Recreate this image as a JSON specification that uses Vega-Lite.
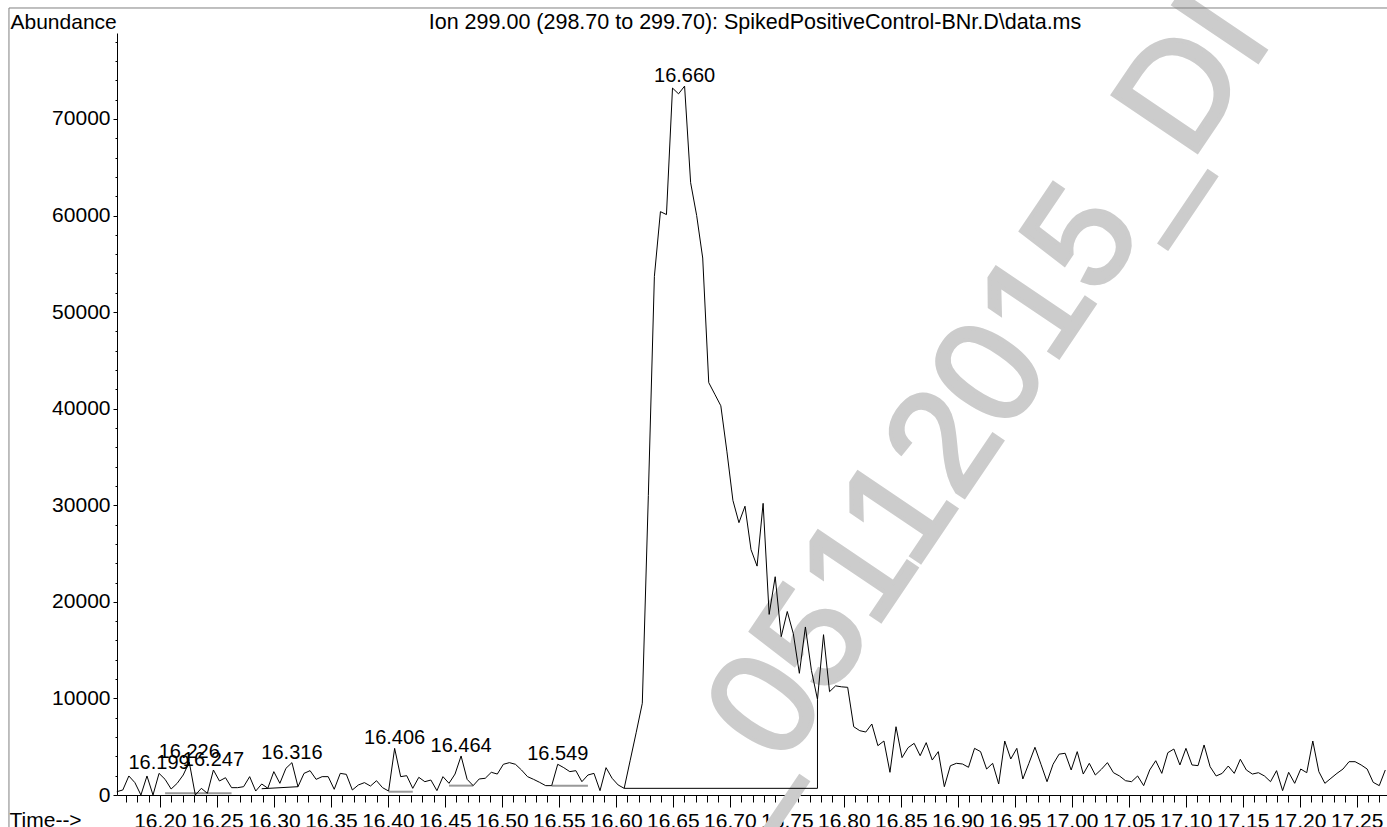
{
  "$schema": "https://vega.github.io/schema/vega-lite/v6.json",
  "width": 1270,
  "height": 762,
  "autosize": "none",
  "padding": {"left": 117, "top": 33, "right": 0, "bottom": 32},
  "background": "white",
  "config": {
    "view": {"stroke": null},
    "font": "Liberation Sans",
    "axis": {"grid": false, "labelFont": "Liberation Sans", "titleFont": "Liberation Sans", "labelColor": "black", "titleColor": "black", "tickColor": "black", "domainColor": "black", "labelFontSize": 21, "titleFontSize": 21, "titleFontWeight": "normal"}
  },
  "datasets": {
    "sig": [
      {"t":16.1621,"a":340},{"t":16.1674,"a":520},{"t":16.1727,"a":1970},{"t":16.1780,"a":1280},{"t":16.1833,"a":0},{"t":16.1886,"a":1970},{"t":16.1939,"a":0},{"t":16.1992,"a":2240},{"t":16.2045,"a":1620},{"t":16.2098,"a":620},
      {"t":16.2151,"a":1210},{"t":16.2204,"a":2070},{"t":16.2257,"a":3400},{"t":16.2310,"a":0},{"t":16.2363,"a":690},{"t":16.2416,"a":170},{"t":16.2469,"a":2590},{"t":16.2522,"a":1450},{"t":16.2575,"a":1790},{"t":16.2628,"a":760},
      {"t":16.2681,"a":760},{"t":16.2734,"a":860},{"t":16.2787,"a":1900},{"t":16.2840,"a":410},{"t":16.2893,"a":1140},{"t":16.2946,"a":700},{"t":16.2999,"a":2420},{"t":16.3052,"a":1210},{"t":16.3105,"a":2760},{"t":16.3158,"a":3350},
      {"t":16.3211,"a":860},{"t":16.3264,"a":2240},{"t":16.3317,"a":2520},{"t":16.3370,"a":1620},{"t":16.3423,"a":1900},{"t":16.3476,"a":1900},{"t":16.3529,"a":590},{"t":16.3582,"a":2240},{"t":16.3635,"a":2140},{"t":16.3688,"a":520},
      {"t":16.3741,"a":1040},{"t":16.3794,"a":1280},{"t":16.3847,"a":930},{"t":16.3900,"a":1480},{"t":16.3953,"a":760},{"t":16.4006,"a":410},{"t":16.4059,"a":4830},{"t":16.4112,"a":1900},{"t":16.4165,"a":2000},{"t":16.4218,"a":690},
      {"t":16.4271,"a":1830},{"t":16.4324,"a":1380},{"t":16.4377,"a":1550},{"t":16.4430,"a":450},{"t":16.4483,"a":1900},{"t":16.4536,"a":1210},{"t":16.4589,"a":2170},{"t":16.4642,"a":4040},{"t":16.4695,"a":1620},{"t":16.4748,"a":970},
      {"t":16.4801,"a":1660},{"t":16.4854,"a":1730},{"t":16.4907,"a":2350},{"t":16.4960,"a":2170},{"t":16.5013,"a":3180},{"t":16.5066,"a":3350},{"t":16.5119,"a":3180},{"t":16.5172,"a":2590},{"t":16.5225,"a":1900},{"t":16.5278,"a":1620},
      {"t":16.5331,"a":1310},{"t":16.5384,"a":970},{"t":16.5437,"a":970},{"t":16.5490,"a":3180},{"t":16.5543,"a":2830},{"t":16.5596,"a":2420},{"t":16.5649,"a":2520},{"t":16.5702,"a":1380},{"t":16.5755,"a":2070},{"t":16.5808,"a":2240},
      {"t":16.5861,"a":450},{"t":16.5914,"a":2830},{"t":16.5967,"a":1730},{"t":16.6020,"a":1040},{"t":16.6073,"a":690},{"t":16.6126,"a":3600},{"t":16.6179,"a":6500},{"t":16.6232,"a":9500},{"t":16.6285,"a":31000},{"t":16.6338,"a":53700},
      {"t":16.6391,"a":60400},{"t":16.6444,"a":60100},{"t":16.6497,"a":73200},{"t":16.6550,"a":72600},{"t":16.6603,"a":73400},{"t":16.6656,"a":63400},{"t":16.6709,"a":60000},{"t":16.6762,"a":55600},{"t":16.6815,"a":42700},{"t":16.6868,"a":41500},
      {"t":16.6921,"a":40300},{"t":16.6974,"a":35600},{"t":16.7027,"a":30500},{"t":16.7080,"a":28200},{"t":16.7133,"a":29900},{"t":16.7186,"a":25400},{"t":16.7239,"a":23700},{"t":16.7292,"a":30200},{"t":16.7345,"a":18700},{"t":16.7398,"a":22600},
      {"t":16.7451,"a":16400},{"t":16.7504,"a":19000},{"t":16.7557,"a":16700},{"t":16.7610,"a":12600},{"t":16.7663,"a":17400},{"t":16.7716,"a":12900},{"t":16.7769,"a":9900},{"t":16.7822,"a":16600},{"t":16.7875,"a":10700},{"t":16.7928,"a":11300},
      {"t":16.7981,"a":11200},{"t":16.8034,"a":11150},{"t":16.8087,"a":7070},{"t":16.8140,"a":6660},{"t":16.8193,"a":6520},{"t":16.8246,"a":7350},{"t":16.8299,"a":5110},{"t":16.8352,"a":5590},{"t":16.8405,"a":2350},{"t":16.8458,"a":7070},
      {"t":16.8511,"a":3870},{"t":16.8564,"a":4900},{"t":16.8617,"a":5350},{"t":16.8670,"a":4070},{"t":16.8723,"a":5420},{"t":16.8776,"a":3620},{"t":16.8829,"a":4490},{"t":16.8882,"a":860},{"t":16.8935,"a":3030},{"t":16.8988,"a":3280},
      {"t":16.9041,"a":3210},{"t":16.9094,"a":2870},{"t":16.9147,"a":4830},{"t":16.9200,"a":4490},{"t":16.9253,"a":2690},{"t":16.9306,"a":3280},{"t":16.9359,"a":1140},{"t":16.9412,"a":5590},{"t":16.9465,"a":3730},{"t":16.9518,"a":4830},
      {"t":16.9571,"a":1660},{"t":16.9624,"a":3280},{"t":16.9677,"a":4940},{"t":16.9730,"a":3180},{"t":16.9783,"a":1380},{"t":16.9836,"a":3180},{"t":16.9889,"a":4230},{"t":16.9942,"a":4320},{"t":16.9995,"a":2590},{"t":17.0048,"a":4490},
      {"t":17.0101,"a":2170},{"t":17.0154,"a":3280},{"t":17.0207,"a":2070},{"t":17.0260,"a":2660},{"t":17.0313,"a":3350},{"t":17.0366,"a":2310},{"t":17.0419,"a":1970},{"t":17.0472,"a":1480},{"t":17.0525,"a":1380},{"t":17.0578,"a":1970},
      {"t":17.0631,"a":970},{"t":17.0684,"a":2590},{"t":17.0737,"a":3550},{"t":17.0790,"a":2240},{"t":17.0843,"a":4380},{"t":17.0896,"a":4760},{"t":17.0949,"a":3110},{"t":17.1002,"a":4830},{"t":17.1055,"a":3110},{"t":17.1108,"a":3040},
      {"t":17.1161,"a":5180},{"t":17.1214,"a":2930},{"t":17.1267,"a":1970},{"t":17.1320,"a":2240},{"t":17.1373,"a":3000},{"t":17.1426,"a":2240},{"t":17.1479,"a":3700},{"t":17.1532,"a":2590},{"t":17.1585,"a":2170},{"t":17.1638,"a":2310},
      {"t":17.1691,"a":1970},{"t":17.1744,"a":1380},{"t":17.1797,"a":2520},{"t":17.1850,"a":450},{"t":17.1903,"a":2350},{"t":17.1956,"a":1210},{"t":17.2009,"a":2690},{"t":17.2062,"a":2310},{"t":17.2115,"a":5590},{"t":17.2168,"a":2420},
      {"t":17.2221,"a":1210},{"t":17.2274,"a":1730},{"t":17.2327,"a":2240},{"t":17.2380,"a":2690},{"t":17.2433,"a":3450},{"t":17.2486,"a":3450},{"t":17.2539,"a":3110},{"t":17.2592,"a":2690},{"t":17.2645,"a":1310},{"t":17.2698,"a":970},
      {"t":17.2751,"a":2590}
    ],
    "grayBase": [
      {"seg":"a","t":16.2045,"a":170},{"seg":"a","t":16.2628,"a":170},
      {"seg":"b","t":16.4006,"a":340},{"seg":"b","t":16.4218,"a":340},
      {"seg":"c","t":16.4536,"a":970},{"seg":"c","t":16.4748,"a":970},
      {"seg":"d","t":16.5437,"a":970},{"seg":"d","t":16.5755,"a":970}
    ],
    "blackBase": [
      {"seg":"p","o":1,"t":16.2893,"a":650},{"seg":"p","o":2,"t":16.3211,"a":860},
      {"seg":"m","o":1,"t":16.6073,"a":690},{"seg":"m","o":2,"t":16.7769,"a":690},{"seg":"m","o":3,"t":16.7769,"a":9900}
    ],
    "peaks": [
      {"t":16.1992,"a":2240,"lab":"16.199"},
      {"t":16.2257,"a":3400,"lab":"16.226"},
      {"t":16.2469,"a":2590,"lab":"16.247"},
      {"t":16.3158,"a":3350,"lab":"16.316"},
      {"t":16.4059,"a":4830,"lab":"16.406"},
      {"t":16.4642,"a":4040,"lab":"16.464"},
      {"t":16.5490,"a":3180,"lab":"16.549"},
      {"t":16.6603,"a":73400,"lab":"16.660"}
    ],
    "mark": [
      {"t":16.7057,"a":-4142,"txt":"_05112015_DI"}
    ]
  },
  "layer": [
    {
      "data": {"name": "mark"},
      "mark": {"type": "text", "angle": -56, "fontSize": 148, "fontWeight": "normal", "font": "Liberation Sans", "color": "#cccccc", "stroke": "#cccccc", "strokeWidth": 4, "align": "left", "baseline": "alphabetic"},
      "encoding": {
        "x": {"field": "t", "type": "quantitative", "scale": {"domain": [16.1623, 17.2766], "nice": false, "zero": false}, "axis": null},
        "y": {"field": "a", "type": "quantitative", "scale": {"domain": [0, 78900], "nice": false, "zero": false}, "axis": null},
        "text": {"field": "txt"}
      }
    },
    {
      "data": {"values": [{}]},
      "mark": {"type": "rule", "color": "#808080", "strokeWidth": 1},
      "encoding": {
        "x": {"datum": 16.0675, "type": "quantitative", "axis": null},
        "x2": {"datum": 17.30},
        "y": {"datum": 81489, "type": "quantitative", "axis": null}
      }
    },
    {
      "data": {"values": [{}]},
      "mark": {"type": "rule", "color": "#808080", "strokeWidth": 1},
      "encoding": {
        "x": {"datum": 16.0675, "type": "quantitative", "axis": null},
        "y": {"datum": 81489, "type": "quantitative", "axis": null},
        "y2": {"datum": -4000}
      }
    },
    {
      "data": {"name": "grayBase"},
      "mark": {"type": "line", "color": "#999999", "strokeWidth": 2},
      "encoding": {
        "x": {"field": "t", "type": "quantitative", "axis": {"orient": "bottom", "values": [16.17,16.18,16.19,16.21,16.22,16.23,16.24,16.26,16.27,16.28,16.29,16.31,16.32,16.33,16.34,16.36,16.37,16.38,16.39,16.41,16.42,16.43,16.44,16.46,16.47,16.48,16.49,16.51,16.52,16.53,16.54,16.56,16.57,16.58,16.59,16.61,16.62,16.63,16.64,16.66,16.67,16.68,16.69,16.71,16.72,16.73,16.74,16.76,16.77,16.78,16.79,16.81,16.82,16.83,16.84,16.86,16.87,16.88,16.89,16.91,16.92,16.93,16.94,16.96,16.97,16.98,16.99,17.01,17.02,17.03,17.04,17.06,17.07,17.08,17.09,17.11,17.12,17.13,17.14,17.16,17.17,17.18,17.19,17.21,17.22,17.23,17.24,17.26,17.27], "tickSize": 7, "labels": false, "domain": false, "title": null}},
        "y": {"field": "a", "type": "quantitative", "axis": {"orient": "left", "values": [2000,4000,6000,8000,12000,14000,16000,18000,22000,24000,26000,28000,32000,34000,36000,38000,42000,44000,46000,48000,52000,54000,56000,58000,62000,64000,66000,68000,72000,74000,76000,78000], "tickSize": 2, "labels": false, "domain": false, "title": "Ion 299.00 (298.70 to 299.70): SpikedPositiveControl-BNr.D\\data.ms", "titleFontSize": 21.5, "titleAngle": 0, "titleAlign": "center", "titleBaseline": "alphabetic", "titleX": 637.5, "titleY": -5}},
        "detail": {"field": "seg"}
      }
    },
    {
      "data": {"name": "blackBase"},
      "mark": {"type": "line", "color": "black", "strokeWidth": 1},
      "encoding": {
        "x": {"field": "t", "type": "quantitative", "axis": null},
        "y": {"field": "a", "type": "quantitative", "axis": null},
        "detail": {"field": "seg"},
        "order": {"field": "o"}
      }
    },
    {
      "data": {"name": "sig"},
      "mark": {"type": "line", "color": "black", "strokeWidth": 1},
      "encoding": {
        "x": {"field": "t", "type": "quantitative", "axis": {"orient": "bottom", "values": [16.2,16.25,16.3,16.35,16.4,16.45,16.5,16.55,16.6,16.65,16.7,16.75,16.8,16.85,16.9,16.95,17.0,17.05,17.1,17.15,17.2,17.25], "format": ".2f", "tickSize": 12, "labelPadding": 3, "labelOverlap": false, "labelFlush": false, "domain": true, "title": "Time-->", "titleAlign": "left", "titleBaseline": "alphabetic", "titleX": -108, "titleY": 31}},
        "y": {"field": "a", "type": "quantitative", "axis": {"orient": "left", "values": [0,10000,20000,30000,40000,50000,60000,70000], "format": "d", "tickSize": 4, "labelPadding": 3, "labelOverlap": false, "labelFlush": false, "domain": true, "title": "Abundance", "titleAngle": 0, "titleAlign": "left", "titleBaseline": "alphabetic", "titleX": -107, "titleY": -5}}
      }
    },
    {
      "data": {"name": "peaks"},
      "mark": {"type": "text", "fontSize": 20, "font": "Liberation Sans", "color": "black", "align": "center", "baseline": "alphabetic", "dy": -4},
      "encoding": {
        "x": {"field": "t", "type": "quantitative", "axis": null},
        "y": {"field": "a", "type": "quantitative", "axis": null},
        "text": {"field": "lab"}
      }
    }
  ],
  "resolve": {"axis": {"x": "independent", "y": "independent"}}
}
